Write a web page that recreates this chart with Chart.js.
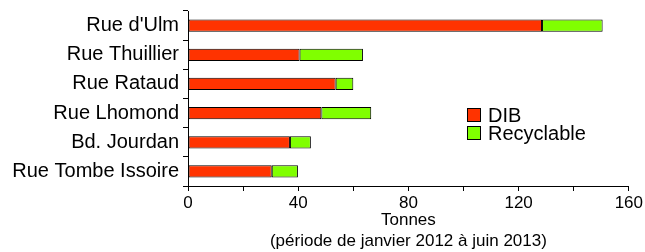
<!DOCTYPE html>
<html>
<head>
<meta charset="utf-8">
<script src="https://cdn.jsdelivr.net/npm/chart.js@4/dist/chart.umd.min.js"></script>
<style>
  html, body { margin: 0; padding: 0; background: #fff; }
  #wrap { width: 645px; height: 252px; position: relative; }
</style>
</head>
<body>
<div id="wrap"><canvas id="chart"></canvas></div>
<script>
// ─── Data (tonnes, janvier 2012 - juin 2013) ───
const categories = ["Rue d'Ulm", 'Rue Thuillier', 'Rue Rataud', 'Rue Lhomond', 'Bd. Jourdan', 'Rue Tombe Issoire'];
const seriesNames = ['DIB', 'Recyclable'];
const dibValues = [128.5, 40.5, 53.6, 48.4, 37.0, 30.4];
const recyclableValues = [22.0, 23.0, 6.4, 18.1, 7.6, 9.5];
const xTickLabels = [0, 40, 80, 120, 160];
const xTitle = ['Tonnes', '(période de janvier 2012 à juin 2013)'];

const FONT = '"Liberation Sans", Arial, Helvetica, sans-serif';
const RED = '#ff3300';
const GREEN = '#80ff00';

// legend drawn inside the plot, right of the short bars
const insideLegend = {
    id: 'insideLegend',
    afterDraw(chart) {
        const ctx = chart.ctx;
        ctx.save();
        ctx.font = '20px ' + FONT;
        ctx.textBaseline = 'middle';
        ctx.textAlign = 'left';
        chart.data.datasets.forEach((ds, i) => {
            const x = 467, y = 108 + i * 18;
            ctx.fillStyle = ds.backgroundColor;
            ctx.fillRect(x, y, 14, 14);
            ctx.strokeStyle = '#000';
            ctx.lineWidth = 1;
            ctx.strokeRect(x + 0.5, y + 0.5, 13, 13);
            ctx.fillStyle = '#000';
            ctx.fillText(ds.label, 488, y + 8);
        });
        ctx.restore();
    }
};

new Chart(document.getElementById('chart'), {
    type: 'bar',
    data: {
        labels: categories,
        datasets: [
            {
                label: seriesNames[0],
                data: dibValues,
                backgroundColor: RED,
                borderColor: '#000',
                borderWidth: 1,
                borderSkipped: false,
                barPercentage: 0.42,
                categoryPercentage: 1
            },
            {
                label: seriesNames[1],
                data: recyclableValues,
                backgroundColor: GREEN,
                borderColor: '#000',
                borderWidth: 1,
                borderSkipped: false,
                barPercentage: 0.42,
                categoryPercentage: 1
            }
        ]
    },
    options: {
        indexAxis: 'y',
        responsive: true,
        maintainAspectRatio: false,
        animation: false,
        layout: { padding: { top: 5, right: 16, left: 0, bottom: 0 } },
        plugins: {
            legend: { display: false },
            tooltip: { enabled: false }
        },
        scales: {
            x: {
                stacked: true,
                min: 0,
                max: 160,
                border: { color: '#000', width: 1 },
                grid: { display: true, drawOnChartArea: false, color: '#000', tickLength: 5 },
                ticks: {
                    stepSize: 20,
                    color: '#000',
                    padding: 2,
                    maxRotation: 0,
                    font: { family: FONT, size: 17 },
                    callback: v => xTickLabels.includes(v) ? String(v) : ''
                },
                title: {
                    display: true,
                    text: xTitle,
                    color: '#000',
                    font: { family: FONT, size: 17, lineHeight: 1.25 },
                    padding: { top: 0, bottom: 0 }
                },
                afterFit: s => { s.height = 66; }
            },
            y: {
                stacked: true,
                border: { color: '#000', width: 1 },
                grid: { display: true, drawOnChartArea: false, color: '#000', tickLength: 5, offset: true },
                ticks: {
                    color: '#000',
                    padding: 4,
                    font: { family: FONT, size: 20, lineHeight: 0.7 }
                },
                afterFit: s => { s.width = 188; }
            }
        }
    },
    plugins: [insideLegend]
});
</script>
</body>
</html>
